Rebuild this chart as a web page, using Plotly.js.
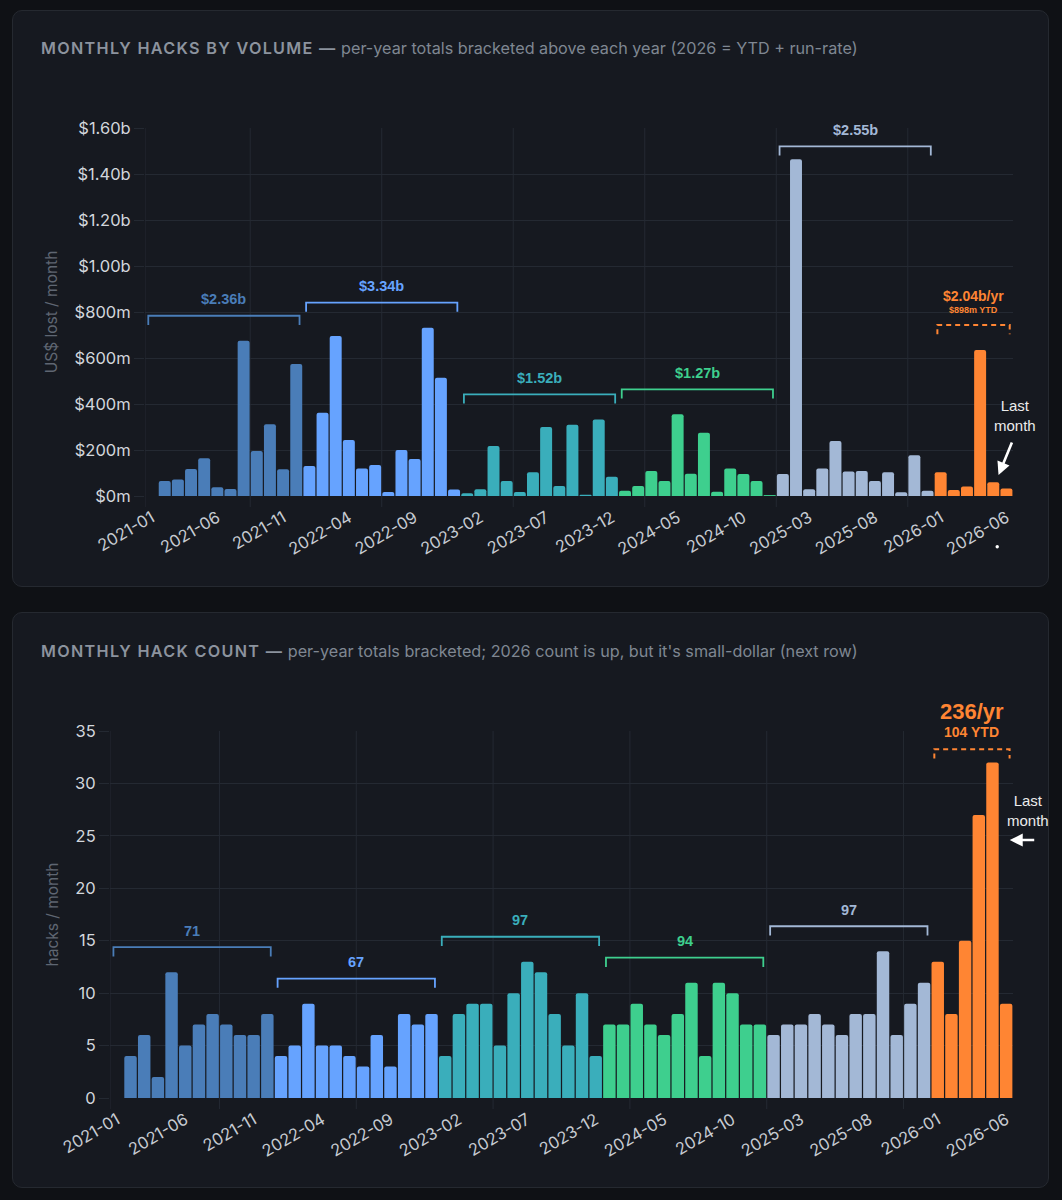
<!DOCTYPE html>
<html><head><meta charset="utf-8">
<script src="https://cdn.plot.ly/plotly-3.0.1.min.js"></script>
<style>
html,body{margin:0;padding:0;background:#0f1115;width:1062px;height:1200px;overflow:hidden}
.card{position:absolute;left:12px;width:1037px;background:#161920;border:1px solid #252930;border-radius:10px;box-sizing:border-box}
.ttl{position:absolute;left:28px;font-family:Inter,"Noto Sans",sans-serif;font-size:16.2px;line-height:19px;color:#7f8792;white-space:nowrap}
.ttl b{font-weight:600;letter-spacing:1.3px;color:#8c939e}
.chart{position:absolute;left:12px;width:1037px}
</style></head>
<body>
<div class="card" style="top:10px;height:577px"><div class="ttl" style="top:28px"><b>MONTHLY HACKS BY VOLUME —</b> per-year totals bracketed above each year (2026 = YTD + run-rate)</div></div>
<div class="card" style="top:612px;height:576px"><div class="ttl" style="top:29px"><b>MONTHLY HACK COUNT —</b> per-year totals bracketed; 2026 count is up, but it's small-dollar (next row)</div></div>
<div id="c1" class="chart" style="top:10px;height:577px"></div>
<div id="c2" class="chart" style="top:612px;height:576px"></div>
<script>
// ---- data ----
const years = ['2021','2022','2023','2024','2025','2026'];
const yearColors = ['#4a7db8','#66a3ff','#3aaebb','#3ecf8e','#a3b8d6','#ff8533'];
const months = [];
years.forEach(y => { for (let m = 1; m <= 12; m++) { if (y === '2026' && m > 6) break; months.push(y + '-' + String(m).padStart(2,'0')); } });

// US$ millions lost per month
const volume2021 = [0, 65, 72, 117, 164, 38, 30, 675, 196, 312, 116, 574];
const volume2022 = [130, 362, 696, 243, 120, 135, 17, 200, 161, 732, 514, 28];
const volume2023 = [12, 29, 217, 65, 17, 103, 300, 43, 310, 5, 333, 84];
const volume2024 = [23, 43, 109, 65, 355, 97, 275, 19, 120, 96, 65, 4];
const volume2025 = [96, 1464, 29, 120, 239, 106, 109, 65, 103, 16, 177, 23];
const volume2026 = [103, 26, 41, 635, 60, 33];

// hacks per month
const count2021 = [0, 4, 6, 2, 12, 5, 7, 8, 7, 6, 6, 8];
const count2022 = [4, 5, 9, 5, 5, 4, 3, 6, 3, 8, 7, 8];
const count2023 = [4, 8, 9, 9, 5, 10, 13, 12, 8, 5, 10, 4];
const count2024 = [7, 7, 9, 7, 6, 8, 11, 4, 11, 10, 7, 7];
const count2025 = [6, 7, 7, 8, 7, 6, 8, 8, 14, 6, 9, 11];
const count2026 = [13, 8, 15, 27, 32, 9];

const volumeTotalLabels = ['$2.36b','$3.34b','$1.52b','$1.27b','$2.55b'];
const volume2026Labels = ['$2.04b/yr','$898m YTD'];
const countTotalLabels = ['71','67','97','94','97'];
const count2026Labels = ['236/yr','104 YTD'];

const volTickVals = [0,200,400,600,800,1000,1200,1400,1600];
const volTickText = ['$0m','$200m','$400m','$600m','$800m','$1.00b','$1.20b','$1.40b','$1.60b'];
const cntTickVals = [0,5,10,15,20,25,30,35];
const xTickVals = months.filter((m,i) => i % 5 === 0);

const volumeByYear = [volume2021,volume2022,volume2023,volume2024,volume2025,volume2026];
const countByYear = [count2021,count2022,count2023,count2024,count2025,count2026];

// ---- build ----
const GRID = '#242932';
const ANN_FONT = '"Liberation Sans", Arial, sans-serif';
const TICK_FONT = 'Inter, "Noto Sans", sans-serif';

function build(div, byYear, cfg) {
  const y = [].concat(...byYear);
  const colors = [];
  byYear.forEach((arr, k) => arr.forEach(() => colors.push(yearColors[k])));
  const ymax = cfg.ymax;
  const shapes = [];
  const annotations = [];
  const plotH = cfg.height - cfg.margin.t - cfg.margin.b;
  // vertical grid
  [-0.5, 7.5, 17.5, 27.5, 37.5, 47.5, 57.5].forEach(xv => shapes.push({
    type:'line', xref:'x', yref:'paper', x0:xv, x1:xv, y0:-11/plotH, y1:1,
    line:{color:GRID, width:1}, layer:'below'
  }));
  let start = 0;
  byYear.forEach((arr, k) => {
    const x0 = start - 0.25, x1 = start + arr.length - 1 + 0.25;
    const mx = Math.max(...arr);
    const by = Math.min(mx + 0.068*ymax, 0.95*ymax);
    const drop = 0.025*ymax;
    const last = k === byYear.length - 1;
    shapes.push({
      type:'path', xref:'x', yref:'y',
      path:`M ${x0},${by-drop} L ${x0},${by} L ${x1},${by} L ${x1},${by-drop}`,
      line:{color:yearColors[k], width: last ? 2 : 1.8, dash: last ? '5px,4px' : 'solid'}
    });
    const cx = (x0 + x1)/2;
    if (!last) {
      annotations.push({x:cx, y:by, xref:'x', yref:'y', yshift:16.5, text:'<b>'+cfg.totals[k]+'</b>', showarrow:false,
        font:{family:ANN_FONT, size:14.5, color:yearColors[k]}});
    } else {
      annotations.push({x:cx, y:by, xref:'x', yref:'y', yshift:cfg.l26shift[0], text:'<b>'+cfg.labels26[0]+'</b>', showarrow:false,
        font:{family:ANN_FONT, size:cfg.l26size[0], color:yearColors[k]}});
      annotations.push({x:cx, y:by, xref:'x', yref:'y', yshift:cfg.l26shift[1], text:'<b>'+cfg.labels26[1]+'</b>', showarrow:false,
        font:{family:ANN_FONT, size:cfg.l26size[1], color:yearColors[k]}});
    }
    start += arr.length;
  });
  // last month note
  annotations.push({x:cfg.noteX, y:cfg.noteY, xref:'paper', yref:'paper', xanchor:'center', yanchor:'middle',
    text:'Last<br>month', showarrow:false, font:{family:ANN_FONT, size:15, color:'#ececec'}});
  annotations.push({x:cfg.arrow.x, y:cfg.arrow.y, xref:'x', yref:'y', ax:cfg.arrow.ax, ay:cfg.arrow.ay, text:'',
    showarrow:true, arrowhead:2, arrowsize:1, arrowwidth:2.6, arrowcolor:'#ffffff', standoff:0});
  if (cfg.dot) shapes.push(cfg.dot);

  const layout = {
    width:1037, height:cfg.height, margin:cfg.margin,
    paper_bgcolor:'rgba(0,0,0,0)', plot_bgcolor:'rgba(0,0,0,0)',
    showlegend:false, bargap:0.09,
    xaxis:{type:'category', categoryorder:'array', categoryarray:months, range:[-0.5, months.length-0.5],
      tickmode:'array', tickvals:xTickVals, ticktext:xTickVals, tickangle:-30,
      ticks:'outside', ticklen:5, tickcolor:'rgba(0,0,0,0)',
      tickfont:{family:TICK_FONT, size:16.5, color:'#c6cbd2'},
      showgrid:false, zeroline:false, showline:false, fixedrange:true},
    yaxis:{range:[0, ymax], tickmode:'array', tickvals:cfg.tickvals, ticktext:cfg.ticktext,
      ticks:'outside', ticklen:10, tickcolor:GRID,
      tickfont:{family:TICK_FONT, size:16.5, color:'#d2d6dc'},
      gridcolor:GRID, gridwidth:1, zeroline:false, showline:false,
      title:{text:cfg.ytitle, standoff:12, font:{family:TICK_FONT, size:15.5, color:'#5f6672'}}},
    shapes:shapes, annotations:annotations
  };
  const trace = {type:'bar', x:months, y:y, marker:{color:colors, cornerradius:2, line:{width:0}},
    hoverinfo:'x+y'};
  Plotly.newPlot(div, [trace], layout, {displayModeBar:false, staticPlot:true});
}

build('c1', volumeByYear, {
  height:577, margin:{l:133, r:36, t:118, b:91}, ymax:1600,
  tickvals:volTickVals, ticktext:volTickText, ytitle:'US$ lost / month',
  totals:volumeTotalLabels, labels26:volume2026Labels, l26shift:[29,14.5], l26size:[14,9],
  noteX:1.0028, noteY:0.2174, arrow:{x:64.4, y:91, ax:14, ay:-34},
  dot:{type:'circle', xref:'x', yref:'paper', xsizemode:'pixel', ysizemode:'pixel',
    xanchor:64.3, yanchor:-0.138, x0:-1.7, x1:1.7, y0:-1.7, y1:1.7, fillcolor:'#ffffff', line:{width:0}}
});
build('c2', countByYear, {
  height:576, margin:{l:98, r:36, t:119, b:90}, ymax:35,
  tickvals:cntTickVals, ticktext:cntTickVals.map(String), ytitle:'hacks / month',
  totals:countTotalLabels, labels26:count2026Labels, l26shift:[37.5,17], l26size:[22,14],
  noteX:1.0171, noteY:0.784, arrow:{x:65.26, y:24.6, ax:26, ay:0}
});
</script>
</body></html>
